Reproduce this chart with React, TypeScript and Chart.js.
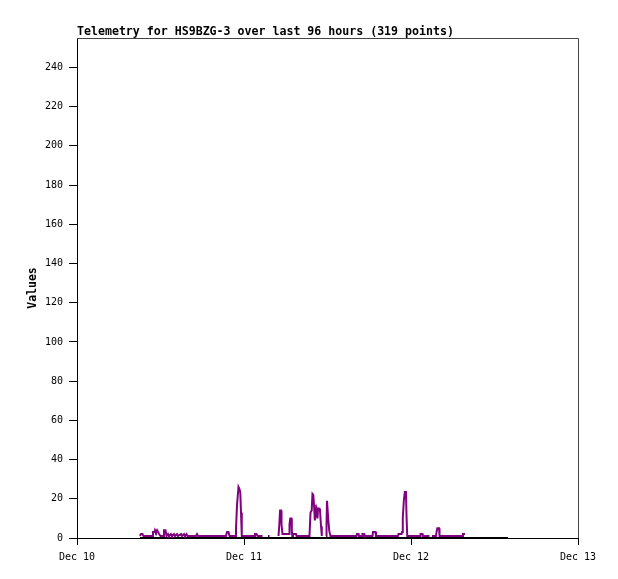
import { useEffect, useRef } from "react";
import { Chart, registerables } from "chart.js";

Chart.register(...registerables);

const titleText = "Telemetry for HS9BZG-3 over last 96 hours (319 points)";
const yAxisTitle = "Values";
const xTickHours = [0, 24, 48, 72];
const xTickLabels = ["Dec 10", "Dec 11", "Dec 12", "Dec 13"];
const yTickValues = [0, 20, 40, 60, 80, 100, 120, 140, 160, 180, 200, 220, 240];
const yMin = 0;
const yMax = 255;
const xMin = 0;
const xMax = 72;

// hours since Dec 10 00:00
const purpleTimes = [
  9.05, 9.2, 9.41, 9.56, 10.78, 10.92, 11.14, 11.21, 11.35, 11.5, 11.64, 11.79, 12.0,
  12.36, 12.5, 12.72, 12.86, 13.08, 13.22, 13.51, 13.65, 13.94, 14.08, 14.37, 14.52,
  14.95, 15.09, 15.38, 15.52, 15.74, 15.88, 17.1, 17.25, 17.39, 21.41, 21.56, 21.77,
  21.92, 22.71, 22.85, 23.0, 23.21, 23.35, 23.47, 23.57, 23.68, 25.44, 25.58, 25.8,
  25.94, 26.66, 26.73, 27.45, 27.67, 27.74, 28.96, 29.08, 29.18, 29.32, 29.39, 29.53,
  29.61, 30.47, 30.54, 30.65, 30.8, 30.87, 30.94, 31.04, 31.47, 31.55, 33.41, 33.56,
  33.73, 33.84, 33.96, 34.06, 34.18, 34.28, 34.42, 34.56, 34.64, 34.78, 34.92, 35.07,
  35.18, 35.28, 35.79, 35.86, 35.93, 36.04, 36.12, 36.26, 36.43, 40.17, 40.24, 40.46,
  40.53, 40.96, 41.03, 41.25, 41.32, 42.47, 42.54, 42.9, 42.97, 46.13, 46.2, 46.64,
  46.71, 46.82, 46.97, 47.11, 47.28, 47.35, 47.46, 49.3, 49.37, 49.66, 49.73, 50.66,
  50.73, 51.02, 51.59, 51.67, 51.78, 52.03, 52.1, 55.4, 55.47, 55.76,
];
const purpleValues = [
  1, 2, 2, 1, 1, 3, 3, 4, 3, 4, 4, 2, 1,
  1, 4, 4, 1, 2, 1, 2, 1, 2, 1, 2, 1,
  2, 1, 2, 1, 2, 1, 1, 2, 1, 1, 3, 3,
  1, 1, 5, 17, 26, 25, 23, 13, 1, 1, 2, 2,
  1, 1, null, 1, 1, null, 1, 7, 14, 14, 7, 2,
  2, 2, 7, 10, 10, 4, 1, 2, 2, 1, 1, 13,
  14, 22.5, 22, 17, 9, 12, 14.5, 10, 15, 15, 14, 6,
  1, null, 1, 7, 19, 19, 9, 3.5, 1, 1, 2, 2,
  1, 1, 2, 2, 1, 1, 3, 3, 1, 1, 2, 2,
  3, 10.5, 19, 23.5, 23.5, 12, 1, 1, 2, 2, 1, 1,
  null, 1, 1, 3, 5, 5, 1, 1, 2, 2,
];
const blackTimes = [9.05, 61.94];
const blackValues = [0, 0];

const monoFont = '"DejaVu Sans Mono", "Liberation Mono", monospace';

export default function App() {
  const canvasRef = useRef<HTMLCanvasElement | null>(null);

  useEffect(() => {
    const canvas = canvasRef.current;
    if (!canvas) return;

    const framePlugin = {
      id: "frameAndTitle",
      afterDraw(chart: any) {
        const { ctx, chartArea } = chart;
        const { left, top, right, bottom } = chartArea;
        ctx.save();
        ctx.strokeStyle = "#444444";
        ctx.lineWidth = 1;
        ctx.beginPath();
        ctx.moveTo(left, Math.floor(top) + 0.5);
        ctx.lineTo(Math.floor(right) + 0.5, Math.floor(top) + 0.5);
        ctx.lineTo(Math.floor(right) + 0.5, bottom);
        ctx.stroke();
        ctx.fillStyle = "#000000";
        ctx.font = `bold 11.6px ${monoFont}`;
        ctx.textAlign = "left";
        ctx.textBaseline = "alphabetic";
        ctx.fillText(titleText, left, top - 3.5);
        ctx.restore();
      },
    };

    const chart = new Chart(canvas, {
      type: "line",
      data: {
        datasets: [
          {
            label: "purple",
            data: purpleTimes.map((t, i) => ({ x: t, y: purpleValues[i] })),
            borderColor: "#800080",
            backgroundColor: "#800080",
            borderWidth: 2,
            pointRadius: 0,
            tension: 0,
            spanGaps: false,
          },
          {
            label: "black",
            data: blackTimes.map((t, i) => ({ x: t, y: blackValues[i] })),
            borderColor: "#000000",
            backgroundColor: "#000000",
            borderWidth: 2,
            pointRadius: 0,
            tension: 0,
          },
        ],
      },
      options: {
        animation: false,
        responsive: true,
        maintainAspectRatio: false,
        layout: { padding: { top: 38, right: 40, left: 0, bottom: 0 } },
        plugins: {
          legend: { display: false },
          tooltip: { enabled: false },
          title: { display: false },
        },
        scales: {
          x: {
            type: "linear",
            min: xMin,
            max: xMax,
            afterBuildTicks: (s: any) => {
              s.ticks = xTickHours.map((v) => ({ value: v }));
            },
            afterFit: (s: any) => {
              s.height = 41;
            },
            ticks: {
              autoSkip: false,
              maxRotation: 0,
              color: "#000000",
              padding: 6,
              font: { family: monoFont, size: 10 },
              callback: (_v: any, i: number) => xTickLabels[i],
            },
            grid: {
              drawOnChartArea: false,
              drawTicks: true,
              tickLength: 7,
              color: "#000000",
            },
            border: { display: true, color: "#000000", width: 1 },
          },
          y: {
            type: "linear",
            min: yMin,
            max: yMax,
            afterBuildTicks: (s: any) => {
              s.ticks = yTickValues.map((v) => ({ value: v }));
            },
            afterFit: (s: any) => {
              s.width = 77;
            },
            ticks: {
              color: "#000000",
              padding: 6,
              font: { family: monoFont, size: 10 },
              callback: (v: any) => String(v),
            },
            grid: {
              drawOnChartArea: false,
              drawTicks: true,
              tickLength: 8,
              color: "#000000",
            },
            border: { display: true, color: "#000000", width: 1 },
            title: {
              display: true,
              text: yAxisTitle,
              color: "#000000",
              font: { family: monoFont, size: 11.5, weight: "bold" },
              padding: { top: 26, bottom: 0 },
            },
          },
        },
      },
      plugins: [framePlugin],
    });

    return () => chart.destroy();
  }, []);

  return (
    <div style={{ position: "absolute", left: 0, top: 0, width: 618, height: 579 }}>
      <canvas ref={canvasRef} />
    </div>
  );
}
